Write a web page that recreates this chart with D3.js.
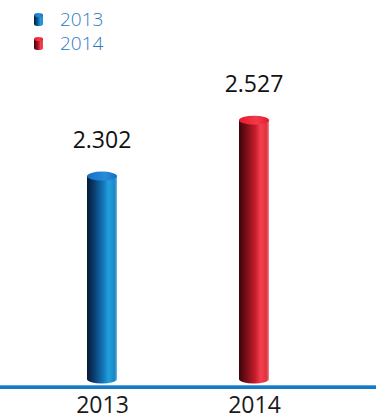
<!DOCTYPE html>
<html>
<head>
<meta charset="utf-8">
<script src="https://cdn.jsdelivr.net/npm/d3@7/dist/d3.min.js"></script>
<style>
  html, body { margin: 0; padding: 0; background: #fff; }
  svg { display: block; }
</style>
</head>
<body>
<svg id="chart" width="376" height="420"></svg>
<script>
// Chart data
const categories = ["2013", "2014"];
const values = [2.302, 2.527];
const valueLabels = ["2.302", "2.527"];
const legendLabels = ["2013", "2014"];

const W = 376, H = 420;
const svg = d3.select("#chart");

// Cylinder palettes per series
const palettes = [
  { stops: ["#061a33", "#0b3f73", "#1478bb", "#22a0dc", "#1a86c6", "#6fb2dc"], top: "#1670c6", topHi: "#2a8ad8" },
  { stops: ["#3a0509", "#7a0e18", "#c81e2c", "#f2404e", "#e0323f", "#f08a92"], top: "#e8192a", topHi: "#f23a48" }
];

const defs = svg.append("defs");
palettes.forEach((p, i) => {
  const g = defs.append("linearGradient").attr("id", "body" + i)
    .attr("x1", "0%").attr("x2", "100%").attr("y1", "0%").attr("y2", "0%");
  const offs = [0, 0.25, 0.55, 0.72, 0.92, 1];
  p.stops.forEach((c, k) => g.append("stop").attr("offset", offs[k]).attr("stop-color", c));
  const t = defs.append("linearGradient").attr("id", "top" + i)
    .attr("x1", "0%").attr("x2", "100%").attr("y1", "0%").attr("y2", "0%");
  t.append("stop").attr("offset", 0).attr("stop-color", p.top);
  t.append("stop").attr("offset", 0.6).attr("stop-color", p.topHi);
  t.append("stop").attr("offset", 1).attr("stop-color", p.top);
});

// Scales
const x = d3.scalePoint().domain(categories).range([102, 254]);
const y = d3.scaleLinear().domain([1.486, 2.6]).range([379, 102]);
const barW = 30, ry = 4.5;

// Axis line
svg.append("rect").attr("x", 0).attr("y", 385).attr("width", W).attr("height", 4)
  .attr("fill", "#1679c4");
svg.append("rect").attr("x", 0).attr("y", 385).attr("width", W).attr("height", 1)
  .attr("fill", "#5aa6dc");

// Bars as cylinders
const bars = svg.append("g").selectAll("g").data(values).join("g");
bars.each(function (v, i) {
  const g = d3.select(this);
  const cx = x(categories[i]);
  const yTop = y(v), yBot = y.range()[0];
  const l = cx - barW / 2, r = cx + barW / 2;
  g.append("path")
    .attr("d", `M${l},${yTop} L${l},${yBot} A${barW / 2},${ry} 0 0 0 ${r},${yBot} L${r},${yTop} Z`)
    .attr("fill", `url(#body${i})`);
  g.append("ellipse").attr("cx", cx).attr("cy", yTop).attr("rx", barW / 2).attr("ry", ry)
    .attr("fill", `url(#top${i})`);
  g.append("text").attr("x", cx).attr("y", yTop - 28)
    .attr("text-anchor", "middle")
    .attr("font-family", "'Open Sans', sans-serif").attr("font-size", 23)
    .attr("fill", "#111").text(valueLabels[i]);
});

// Category axis labels
const xAxis = d3.axisBottom(x).tickSize(0).tickPadding(0);
const ax = svg.append("g").attr("transform", "translate(0,413)").call(xAxis);
ax.select(".domain").remove();
ax.selectAll("text")
  .attr("font-family", "'Open Sans', sans-serif").attr("font-size", 23)
  .attr("fill", "#1a1a1a").attr("y", 0).attr("dy", 0);

// Legend
const legend = svg.append("g").selectAll("g").data(legendLabels).join("g")
  .attr("transform", (d, i) => `translate(34,${13 + i * 24})`);
legend.each(function (d, i) {
  const g = d3.select(this);
  g.append("path").attr("d", "M0,2 L0,11 A4.5,2 0 0 0 9,11 L9,2 Z").attr("fill", `url(#body${i})`);
  g.append("ellipse").attr("cx", 4.5).attr("cy", 2).attr("rx", 4.5).attr("ry", 2).attr("fill", `url(#top${i})`);
  g.append("text").attr("x", 26).attr("y", 13)
    .attr("font-family", "'Open Sans', sans-serif").attr("font-size", 19).attr("font-weight", 300)
    .attr("fill", "#2b79c2").text(d);
});
</script>
</body>
</html>
